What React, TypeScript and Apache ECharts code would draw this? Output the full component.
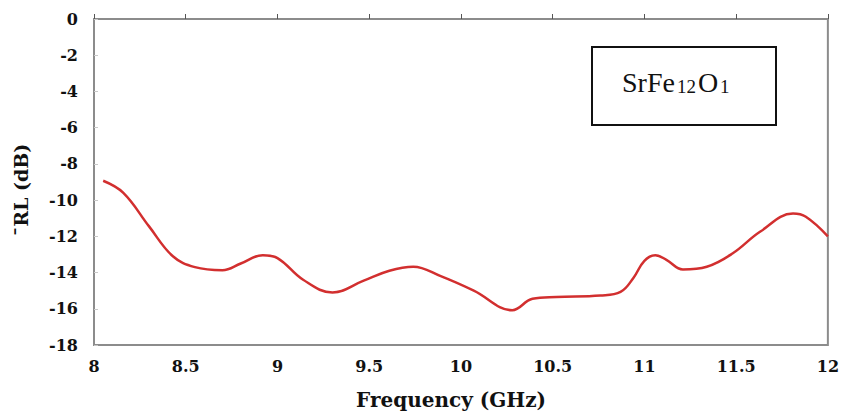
import React, { useEffect, useRef } from "react";
import * as echarts from "echarts";

const freq = [8.05, 8.16, 8.3, 8.43, 8.55, 8.7, 8.8, 8.92, 9.0, 9.14, 9.3, 9.47, 9.61, 9.74, 9.89, 10.07, 10.28, 10.39, 10.52, 10.76, 10.87, 10.94, 11.0, 11.06, 11.12, 11.21, 11.34, 11.48, 11.63, 11.81, 11.88, 12.0];
const rl = [-8.93, -9.6, -11.45, -13.1, -13.7, -13.87, -13.5, -13.04, -13.2, -14.4, -15.1, -14.45, -13.9, -13.68, -14.2, -15.0, -16.08, -15.45, -15.35, -15.27, -15.07, -14.3, -13.35, -13.04, -13.3, -13.83, -13.68, -12.95, -11.75, -10.74, -10.92, -12.0];

const xTitle = "Frequency (GHz)";
const yTitle = "¯RL (dB)";

const FONT = "'DejaVu Serif', 'Liberation Serif', serif";
const TIMES = "'Liberation Serif', 'DejaVu Serif', serif";

export default function App() {
  const ref = useRef<HTMLDivElement>(null);
  useEffect(() => {
    if (!ref.current) return;
    const chart = echarts.init(ref.current, undefined, { renderer: "svg" });
    const data = freq.map((f, i) => [f, rl[i]]);
    chart.setOption({
      animation: false,
      backgroundColor: "#ffffff",
      grid: {
        left: 94,
        right: 14,
        top: 19,
        bottom: 75,
        show: true,
        borderColor: "#8c8c8c",
        borderWidth: 2,
      },
      xAxis: {
        type: "value",
        min: 8,
        max: 12,
        interval: 0.5,
        axisLine: { show: true, lineStyle: { color: "#8c8c8c", width: 2 } },
        axisTick: { show: true, inside: true, length: 5, lineStyle: { color: "#555", width: 1 } },
        splitLine: { show: false },
        axisLabel: {
          color: "#111",
          fontFamily: FONT,
          fontWeight: "bold",
          fontSize: 16,
          margin: 13,
        },
      },
      yAxis: {
        type: "value",
        min: -18,
        max: 0,
        interval: 2,
        axisLine: { show: true, lineStyle: { color: "#8c8c8c", width: 2 } },
        axisTick: { show: true, inside: true, length: 4, lineStyle: { color: "#c8c8c8", width: 1 } },
        splitLine: { show: false },
        axisLabel: {
          color: "#111",
          fontFamily: FONT,
          fontWeight: "bold",
          fontSize: 16,
          margin: 16,
        },
      },
      series: [
        {
          type: "line",
          data,
          smooth: 0.4,
          showSymbol: false,
          symbol: "none",
          lineStyle: { color: "#d22f2f", width: 2.5 },
        },
      ],
      graphic: [
        {
          type: "text",
          x: 451,
          y: 400,
          style: {
            text: xTitle,
            fill: "#111",
            font: `bold 20px ${FONT}`,
            textAlign: "center",
            textVerticalAlign: "middle",
          },
        },
        {
          type: "text",
          x: 21,
          y: 190,
          rotation: Math.PI / 2,
          style: {
            text: yTitle,
            fill: "#111",
            font: `bold 19px ${FONT}`,
            textAlign: "center",
            textVerticalAlign: "middle",
          },
        },
        {
          type: "rect",
          shape: { x: 592, y: 47, width: 184, height: 78 },
          style: { fill: "#ffffff", stroke: "#111", lineWidth: 2 },
          z: 10,
        },
        {
          type: "text",
          x: 622,
          y: 80,
          z: 11,
          style: {
            text: "{m|SrFe}{s|12}{m|O}{s|1}",
            textVerticalAlign: "middle",
            rich: {
              m: { fontFamily: TIMES, fontSize: 28, fill: "#111", color: "#111", verticalAlign: "bottom", lineHeight: 32 },
              s: { fontFamily: TIMES, fontSize: 19, fill: "#111", color: "#111", verticalAlign: "bottom", lineHeight: 25, padding: [0, 2, 0, 2] },
            },
          },
        },
      ],
    });
    return () => chart.dispose();
  }, []);
  return (
    <div
      ref={ref}
      style={{ position: "fixed", left: 0, top: 0, width: 842, height: 420 }}
    />
  );
}
